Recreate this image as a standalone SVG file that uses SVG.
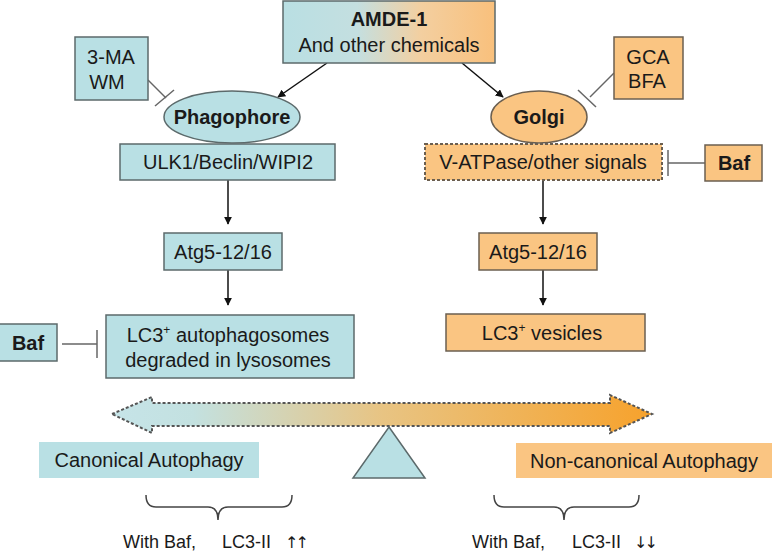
<svg xmlns="http://www.w3.org/2000/svg" width="777" height="554" viewBox="0 0 777 554">
<defs>
<linearGradient id="gTop" x1="283" y1="0" x2="495" y2="0" gradientUnits="userSpaceOnUse">
<stop offset="0" stop-color="#b9dfe3"/>
<stop offset="0.35" stop-color="#c4dfe0"/>
<stop offset="0.65" stop-color="#f3cfa0"/>
<stop offset="1" stop-color="#f9c07c"/>
</linearGradient>
<linearGradient id="gBar" x1="112" y1="0" x2="652" y2="0" gradientUnits="userSpaceOnUse">
<stop offset="0" stop-color="#c6e4e8"/>
<stop offset="0.15" stop-color="#c3e1e0"/>
<stop offset="0.5" stop-color="#e8c483"/>
<stop offset="1" stop-color="#f7a22c"/>
</linearGradient>
<marker id="ah" viewBox="0 0 10 10" refX="9" refY="5" markerWidth="8" markerHeight="8" markerUnits="userSpaceOnUse" orient="auto">
<path d="M0,0 L10,5 L0,10 z" fill="#111"/>
</marker>
</defs>
<style>
.b{fill:#b9e0e4;stroke:#5c6a6b;stroke-width:1.5}
.o{fill:#fac582;stroke:#6b5f50;stroke-width:1.5}
.t{font-family:"Liberation Sans",Arial,sans-serif;font-size:20px;fill:#1a1a1a;text-anchor:middle}
.tb{font-weight:bold}
.s{font-family:"Liberation Sans",Arial,sans-serif;font-size:18px;fill:#1a1a1a}
.ar{font-family:"DejaVu Sans",sans-serif;font-size:16px;fill:#1a1a1a;letter-spacing:-3px}
.arr{stroke:#111;stroke-width:1.5;fill:none;marker-end:url(#ah)}
.inh{stroke:#666;stroke-width:1.5;fill:none}
.br{stroke:#444;stroke-width:1.5;fill:none}
</style>
<rect width="777" height="554" fill="#fff"/>

<g id="connectors">
<line class="arr" x1="327" y1="63" x2="278" y2="97"/>
<line class="arr" x1="462" y1="63" x2="503" y2="97"/>
<line class="inh" x1="148" y1="80" x2="166" y2="98"/>
<line class="inh" x1="155" y1="106" x2="174" y2="90"/>
<line class="inh" x1="614" y1="73" x2="590" y2="97"/>
<line class="inh" x1="578" y1="90" x2="596" y2="107"/>
<line class="inh" x1="705" y1="163" x2="668" y2="163"/>
<line class="inh" x1="668" y1="150" x2="668" y2="176"/>
<line class="inh" x1="62" y1="344" x2="97" y2="344"/>
<line class="inh" x1="97" y1="330" x2="97" y2="358"/>
<line class="arr" x1="228" y1="180" x2="228" y2="224"/>
<line class="arr" x1="228" y1="270" x2="228" y2="305"/>
<line class="arr" x1="543" y1="180" x2="543" y2="224"/>
<line class="arr" x1="543" y1="270" x2="543" y2="305"/>
</g>

<g id="amde">
<rect x="283" y="1" width="212" height="62" fill="url(#gTop)" stroke="#5c6a6b" stroke-width="1.5"/>
<text class="t tb" x="389" y="26">AMDE-1</text>
<text class="t" x="389" y="52">And other chemicals</text>
</g>

<g id="mawm">
<rect class="b" x="75" y="37" width="73" height="63"/>
<text class="t" x="111" y="64">3-MA</text>
<text class="t" x="107" y="89">WM</text>
</g>

<g id="phagophore">
<ellipse class="b" cx="232" cy="117" rx="68" ry="26"/>
<text class="t tb" x="232" y="124">Phagophore</text>
</g>

<g id="ulk">
<rect class="b" x="120" y="144" width="215" height="36"/>
<text class="t" x="228" y="169">ULK1/Beclin/WIPI2</text>
</g>

<g id="atgL">
<rect class="b" x="164" y="233" width="118" height="37"/>
<text class="t" x="223" y="259">Atg5-12/16</text>
</g>

<g id="lc3auto">
<rect class="b" x="106" y="315" width="248" height="63"/>
<text class="t" x="228" y="342">LC3<tspan font-size="12" dy="-8">+</tspan><tspan dy="8"> autophagosomes</tspan></text>
<text class="t" x="228" y="367">degraded in lysosomes</text>
</g>

<g id="bafL">
<rect class="b" x="-2" y="324" width="59" height="37"/>
<text class="t tb" x="28" y="350">Baf</text>
</g>

<g id="gcabfa">
<rect class="o" x="614" y="37" width="69" height="62"/>
<text class="t" x="648" y="64">GCA</text>
<text class="t" x="647" y="88">BFA</text>
</g>

<g id="golgi">
<ellipse class="o" cx="539" cy="117" rx="48" ry="26"/>
<text class="t tb" x="539" y="124">Golgi</text>
</g>

<g id="vatpase">
<rect x="425" y="144" width="237" height="36" fill="#fac582" stroke="#6b5f50" stroke-width="2" stroke-dasharray="3,2"/>
<text class="t" x="543" y="169">V-ATPase/other signals</text>
</g>

<g id="bafR">
<rect class="o" x="705" y="145" width="57" height="36"/>
<text class="t tb" x="734" y="170">Baf</text>
</g>

<g id="atgR">
<rect class="o" x="479" y="233" width="118" height="37"/>
<text class="t" x="538" y="259">Atg5-12/16</text>
</g>

<g id="lc3ves">
<rect class="o" x="446" y="314" width="199" height="37"/>
<text class="t" x="542" y="340">LC3<tspan font-size="12" dy="-8">+</tspan><tspan dy="8"> vesicles</tspan></text>
</g>

<g id="balance">
<path d="M112,414 L152,397 L152,403 L610,403 L610,395 L652,414 L610,433 L610,426 L152,426 L152,433 Z" fill="url(#gBar)" stroke="#555" stroke-width="2" stroke-dasharray="3,2"/>
<path d="M389,427 L425,478 L353,478 Z" fill="#b9e0e4" stroke="#5c6a6b" stroke-width="1.5"/>
</g>

<g id="canonical">
<rect x="39" y="442" width="220" height="36" fill="#b9e0e4"/>
<text class="t" x="149" y="467">Canonical Autophagy</text>
</g>

<g id="noncanonical">
<rect x="516" y="443" width="256" height="35" fill="#fac582"/>
<text class="t" x="644" y="468">Non-canonical Autophagy</text>
</g>

<g id="braceL">
<path class="br" d="M146,495 Q146,507 156,507 L208,507 Q218,507 218,520 Q218,507 228,507 L282,507 Q292,507 292,495"/>
<text class="s" x="123" y="548">With Baf,<tspan x="222">LC3-II</tspan><tspan class="ar" x="285">↑↑</tspan></text>
</g>

<g id="braceR">
<path class="br" d="M494,495 Q494,507 504,507 L554,507 Q564,507 564,520 Q564,507 574,507 L629,507 Q639,507 639,495"/>
<text class="s" x="472" y="548">With Baf,<tspan x="572">LC3-II</tspan><tspan class="ar" x="634">↓↓</tspan></text>
</g>
</svg>
